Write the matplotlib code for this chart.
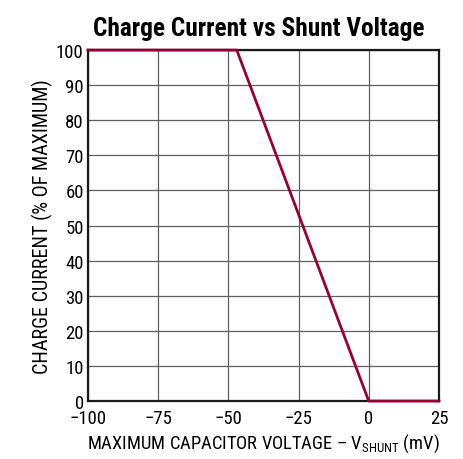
import matplotlib
matplotlib.use("Agg")
import matplotlib.pyplot as plt

plt.rcParams['font.family'] = ['Roboto Condensed', 'DejaVu Sans']
plt.rcParams['mathtext.fontset'] = 'custom'
plt.rcParams['mathtext.rm'] = 'Roboto Condensed'
plt.rcParams['mathtext.it'] = 'Roboto Condensed'

# shunt voltage (mV) vs charge current (% of max)
shunt_mv = [-100, -47, 0, 25]
charge_pct = [100, 100, 0, 0]

xticks = [-100, -75, -50, -25, 0, 25]
yticks = [0, 10, 20, 30, 40, 50, 60, 70, 80, 90, 100]

fig = plt.figure(figsize=(4.63, 4.60), dpi=100)
ax = fig.add_axes([0.190, 0.126, 0.758, 0.763])

ax.plot(shunt_mv, charge_pct, color='#990033', lw=2.0, zorder=3, clip_on=False)

ax.set_xlim(-100, 25)
ax.set_ylim(0, 100)
ax.set_xticks(xticks)
ax.set_yticks(yticks)
ax.grid(True, color='#606060', lw=0.9)
ax.tick_params(length=0, labelsize=13.5)
ax.tick_params(axis='y', pad=3)
ax.tick_params(axis='x', pad=6)
for s in ax.spines.values():
    s.set_linewidth(1.6)
    s.set_color('#1a1a1a')

ax.set_xlabel(r'MAXIMUM CAPACITOR VOLTAGE – V$_{\mathrm{SHUNT}}$ (mV)', fontsize=13.3, labelpad=3)
ax.set_ylabel('CHARGE CURRENT (% OF MAXIMUM)', fontsize=14.5, labelpad=2)
ax.set_title('Charge Current vs Shunt Voltage', fontsize=18.3, fontweight='bold', pad=11, x=0.486)

fig.savefig('out.png', dpi=100)
